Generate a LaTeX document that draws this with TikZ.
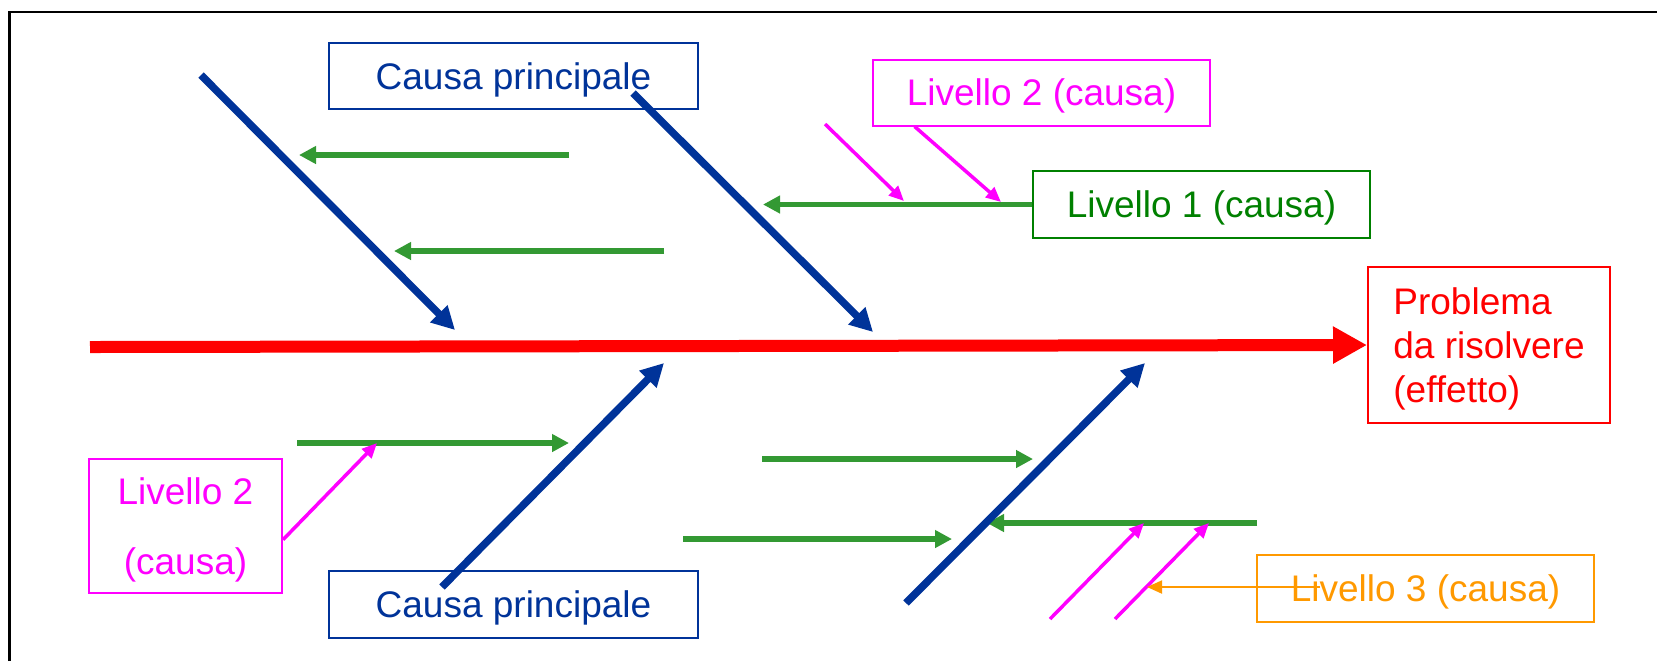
\documentclass[tikz,border=0pt]{standalone}
\usepackage{fontspec}
\setmainfont{Liberation Sans}
\usetikzlibrary{arrows.meta}
\definecolor{cblue}{HTML}{003399}
\definecolor{cgreen}{HTML}{339933}
\definecolor{dgreen}{HTML}{008000}
\definecolor{cmag}{HTML}{FF00FF}
\definecolor{cred}{HTML}{FF0000}
\definecolor{corange}{HTML}{FF9900}
\begin{document}
\begin{tikzpicture}[x=0.5pt,y=-0.5pt,
  box/.style={draw, line width=1pt, inner sep=0pt, text depth=0pt, font=\fontsize{18.5}{22}\selectfont},
  bluearr/.style={cblue, line width=3.75pt, -{Triangle[length=11.5pt,width=11.5pt]}},
  greenarr/.style={cgreen, line width=2.75pt, -{Triangle[length=8.5pt,width=8.5pt]}},
  magarr/.style={cmag, line width=1.75pt, -{Triangle[length=7.5pt,width=6.5pt]}},
  orarr/.style={corange, line width=1pt, -{Triangle[length=7.5pt,width=6.5pt]}},
  redarr/.style={cred, line width=6pt, -{Triangle[length=17pt,width=17.5pt]}}
]
\useasboundingbox (0,0) rectangle (1657,661);
\fill[white] (0,0) rectangle (1657,661);
\draw[line width=1.4pt] (9.5,661) -- (9.5,12) -- (1657,12);

% boxes
\node[box, cblue, minimum width=184.5pt, minimum height=33pt] (cp1) at (513.5,76) {Causa principale};
\node[box, cblue, minimum width=184.5pt, minimum height=33.5pt] (cp2) at (513.5,604.5) {Causa principale};
\node[box, cmag, minimum width=168.5pt, minimum height=33pt] (l2t) at (1041.5,92.5) {Livello 2 (causa)};
\node[box, dgreen, minimum width=168.5pt, minimum height=33.5pt] (l1) at (1201.5,204.5) {Livello 1 (causa)};
\node[box, corange, minimum width=168.5pt, minimum height=33.5pt] (l3) at (1425.5,588.5) {Livello 3 (causa)};
\node[box, cmag, minimum width=96.5pt, minimum height=67pt, align=center,
      font=\fontsize{18.5}{35}\selectfont] (l2b) at (185.5,526) {Livello 2\\(causa)};
\node[box, cred, minimum width=121pt, minimum height=78pt, align=left,
      text depth=-1.9pt, font=\fontsize{18.5}{22.2}\selectfont] (pb) at (1489,345) {Problema\\da risolvere\\(effetto)};

% coordinates
\coordinate (b1s) at (201,75);   \coordinate (b1t) at (455,330);
\coordinate (b2s) at (633,93);   \coordinate (b2t) at (873,332);
\coordinate (b3s) at (442,587);  \coordinate (b3t) at (664,363);
\coordinate (b4s) at (906,603);  \coordinate (b4t) at (1145,363);
\coordinate (rs) at (90,347);
\coordinate (g1s) at (569,155);  \coordinate (g1t) at (299,155);
\coordinate (g2s) at (664,251);  \coordinate (g2t) at (394,251);
\coordinate (g3t) at (763,204.5);
\coordinate (g4s) at (297,443);  \coordinate (g4t) at (569,443);
\coordinate (g5s) at (762,459);  \coordinate (g5t) at (1033,459);
\coordinate (g6s) at (683,539);  \coordinate (g6t) at (952,539);
\coordinate (g7s) at (1257,523); \coordinate (g7t) at (987,523);
\coordinate (m1s) at (825,124);  \coordinate (m1t) at (904,201);
\coordinate (m2t) at (1001,202);
\coordinate (m3t) at (377,443);
\coordinate (m4s) at (1050,619); \coordinate (m4t) at (1144,523);
\coordinate (m5s) at (1115,619); \coordinate (m5t) at (1209,523);
\coordinate (o1s) at (1320,587); \coordinate (o1t) at (1147,587);

% red spine
\draw[redarr] (rs) -- (pb.west);

% green
\draw[greenarr] (g1s) -- (g1t);
\draw[greenarr] (g2s) -- (g2t);
\draw[greenarr] (l1.west) -- (g3t);
\draw[greenarr] (g4s) -- (g4t);
\draw[greenarr] (g5s) -- (g5t);
\draw[greenarr] (g6s) -- (g6t);
\draw[greenarr] (g7s) -- (g7t);

% blue
\draw[bluearr] (b1s) -- (b1t);
\draw[bluearr] (b2s) -- (b2t);
\draw[bluearr] (b3s) -- (b3t);
\draw[bluearr] (b4s) -- (b4t);

% magenta
\draw[magarr] (m1s) -- (m1t);
\draw[magarr] (l2t.195) -- (m2t);
\draw[magarr] (l2b.-8) -- (m3t);
\draw[magarr] (m4s) -- (m4t);
\draw[magarr] (m5s) -- (m5t);

% orange
\draw[orarr] (o1s) -- (o1t);
\end{tikzpicture}
\end{document}
